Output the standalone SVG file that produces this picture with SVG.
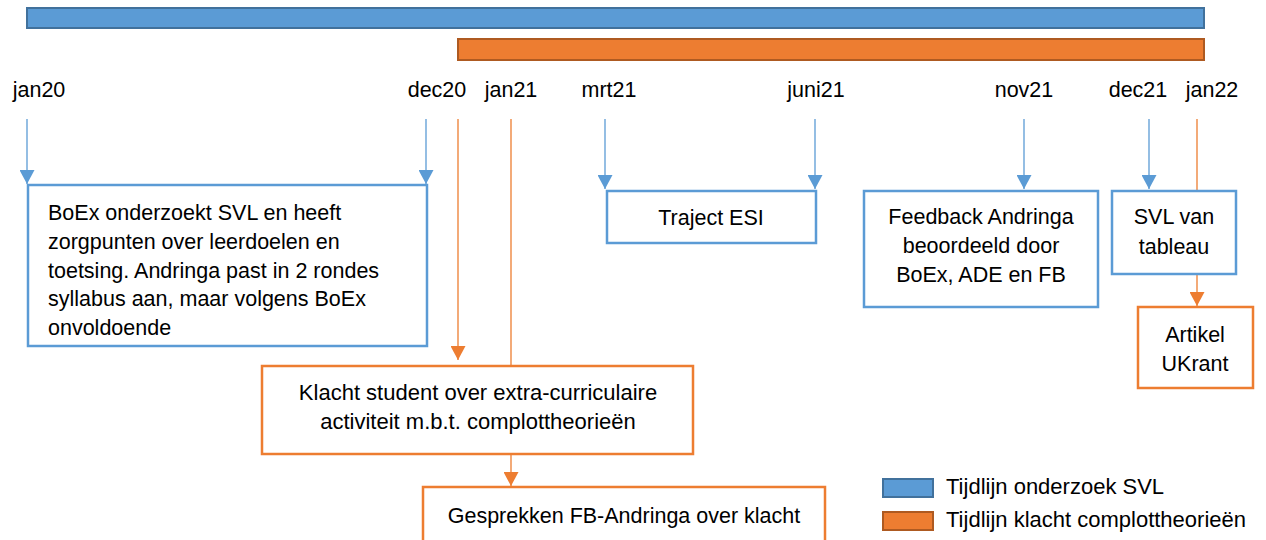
<svg xmlns="http://www.w3.org/2000/svg" width="1266" height="540" viewBox="0 0 1266 540">
<style>
text{font-family:"Liberation Sans",Arial,sans-serif;font-size:21.5px;fill:#000}
.c{text-anchor:middle}
.w{font-size:22px}
.bb{fill:#fff;stroke:#5B9BD5;stroke-width:2.5}
.ob{fill:#fff;stroke:#ED7D31;stroke-width:2.5}
.bl{stroke:#5B9BD5;stroke-width:1.3;fill:none}
.ol{stroke:#ED7D31;stroke-width:1.3;fill:none}
.barb{fill:#5B9BD5;stroke:#41719C;stroke-width:2}
.baro{fill:#ED7D31;stroke:#AE5A21;stroke-width:2}
</style>
<defs>
<marker id="ab" viewBox="0 0 14 15" refX="14" refY="7.5" markerWidth="14" markerHeight="15" markerUnits="userSpaceOnUse" orient="auto"><path d="M0,0 L14,7.5 L0,15 z" fill="#5B9BD5"/></marker>
<marker id="ao" viewBox="0 0 14 15" refX="14" refY="7.5" markerWidth="14" markerHeight="15" markerUnits="userSpaceOnUse" orient="auto"><path d="M0,0 L14,7.5 L0,15 z" fill="#ED7D31"/></marker>
</defs>
<g id="bars">
<rect class="barb" x="27" y="8" width="1177" height="20"/>
<rect class="baro" x="458" y="39" width="746" height="21"/>
</g>
<g id="labels">
<text class="c" x="39" y="97">jan20</text>
<text class="c" x="437" y="97">dec20</text>
<text class="c" x="511" y="97">jan21</text>
<text class="c" x="609" y="97">mrt21</text>
<text class="c" x="816" y="97">juni21</text>
<text class="c" x="1024" y="97">nov21</text>
<text class="c" x="1138" y="97">dec21</text>
<text class="c" x="1212" y="97">jan22</text>
</g>
<g id="connectors">
<line class="bl" x1="27" y1="119" x2="27" y2="184" marker-end="url(#ab)"/>
<line class="bl" x1="426" y1="119" x2="426" y2="184" marker-end="url(#ab)"/>
<line class="bl" x1="605" y1="119" x2="605" y2="189" marker-end="url(#ab)"/>
<line class="bl" x1="815" y1="119" x2="815" y2="189" marker-end="url(#ab)"/>
<line class="bl" x1="1024" y1="119" x2="1024" y2="189" marker-end="url(#ab)"/>
<line class="bl" x1="1149" y1="119" x2="1149" y2="189" marker-end="url(#ab)"/>
<line class="ol" x1="458" y1="119" x2="458" y2="360" marker-end="url(#ao)"/>
<line class="ol" x1="511" y1="119" x2="511" y2="366"/>
<line class="ol" x1="1197" y1="119" x2="1197" y2="191"/>
<line class="ol" x1="1197" y1="274" x2="1197" y2="306" marker-end="url(#ao)"/>
<line class="ol" x1="511" y1="454" x2="511" y2="486" marker-end="url(#ao)"/>
</g>
<g id="boex">
<rect class="bb" x="28" y="185" width="399" height="161"/>
<text x="48" y="220">BoEx onderzoekt SVL en heeft</text>
<text x="48" y="249">zorgpunten over leerdoelen en</text>
<text x="48" y="278">toetsing. Andringa past in 2 rondes</text>
<text x="48" y="306">syllabus aan, maar volgens BoEx</text>
<text x="48" y="335">onvoldoende</text>
</g>
<g id="esi">
<rect class="bb" x="607" y="191" width="209" height="52"/>
<text class="c" x="711" y="225">Traject ESI</text>
</g>
<g id="feedback">
<rect class="bb" x="864" y="191" width="234" height="116"/>
<text class="c" x="981" y="224">Feedback Andringa</text>
<text class="c" x="981" y="253">beoordeeld door</text>
<text class="c" x="981" y="282">BoEx, ADE en FB</text>
</g>
<g id="svl">
<rect class="bb" x="1112" y="191" width="124" height="83"/>
<text class="c" x="1174" y="224">SVL van</text>
<text class="c" x="1174" y="254">tableau</text>
</g>
<g id="artikel">
<rect class="ob" x="1138" y="307" width="115" height="81"/>
<text class="c" x="1195" y="342">Artikel</text>
<text class="c" x="1195" y="371">UKrant</text>
</g>
<g id="klacht">
<rect class="ob" x="262" y="366" width="431" height="88"/>
<text class="c w" x="478" y="400">Klacht student over extra-curriculaire</text>
<text class="c w" x="478" y="429">activiteit m.b.t. complottheorieën</text>
</g>
<g id="gesprekken">
<rect class="ob" x="423" y="487" width="402" height="70"/>
<text class="c" x="624" y="523">Gesprekken FB-Andringa over klacht</text>
</g>
<g id="legend">
<rect class="barb" x="883" y="479" width="50" height="18"/>
<text class="w" x="946" y="494">Tijdlijn onderzoek SVL</text>
<rect class="baro" x="883" y="512" width="50" height="18"/>
<text class="w" x="946" y="527">Tijdlijn klacht complottheorieën</text>
</g>
</svg>
